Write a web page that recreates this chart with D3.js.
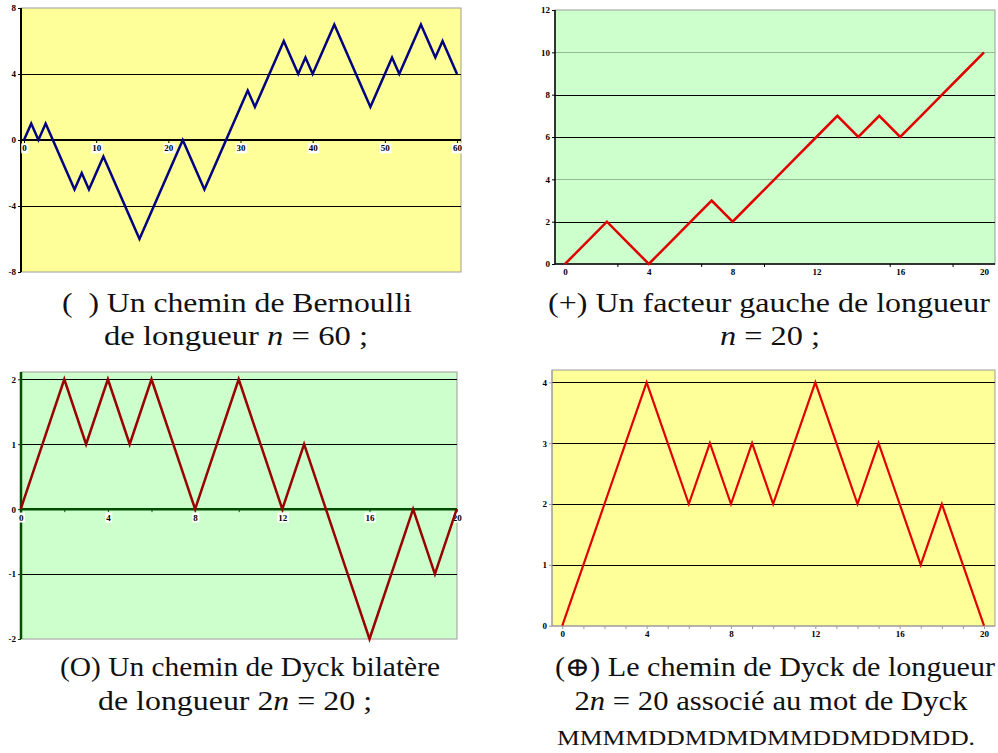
<!DOCTYPE html>
<html><head><meta charset="utf-8">
<script src="https://cdn.jsdelivr.net/npm/d3@7"></script>
<style>body{margin:0;background:#fff}svg{display:block}
.serif{font-family:"Liberation Serif","DejaVu Serif",serif}</style>
</head><body>
<script>
// Height of each path after every step (index = step number)
const bernoulliHeights = [0,1,0,1,0,-1,-2,-3,-2,-3,-2,-1,-2,-3,-4,-5,-6,-5,-4,-3,-2,-1,0,-1,-2,-3,-2,-1,0,1,2,3,2,3,4,5,6,5,4,5,4,5,6,7,6,5,4,3,2,3,4,5,4,5,6,7,6,5,6,5,4];
const bernoulliXTicks = [0,10,20,30,40,50,60];
const bernoulliYTicks = [-8,-4,0,4,8];

const leftFactorHeights = [0,1,2,1,0,1,2,3,2,3,4,5,6,7,6,7,6,7,8,9,10];
const leftFactorXTicks = [0,4,8,12,16,20];
const leftFactorMinorTicks = [2.5,6.5,9.5,15.5,18.5];
const leftFactorYTicks = [0,2,4,6,8,10,12];

const bilateralHeights = [0,1,2,1,2,1,2,1,0,1,2,1,0,1,0,-1,-2,-1,0,-1,0];
const bilateralXTicks = [0,4,8,12,16,20];
const bilateralMinorTicks = [0,2,4,6,8,10,12,14,16,18,20];
const bilateralYTicks = [-2,-1,0,1,2];

const dyckHeights = [0,1,2,3,4,3,2,3,2,3,2,3,4,3,2,3,2,1,2,1,0];
const dyckXTicks = [0,4,8,12,16,20];
const dyckMinorTicks = [0,1,2,3,4,5,6,7,8,9,10,11,12,13,14,15,16,17,18,19,20];
const dyckYTicks = [0,1,2,3,4];
const dyckWord = "MMMMDDMDMDMMDDMDDMDD";

const W = 998, H = 753;
const svg = d3.select("body").append("svg").attr("width", W).attr("height", H);

function panel(cfg) {
  const g = svg.append("g");
  const [px0, py0, px1, py1] = cfg.plot;
  const x = d3.scaleLinear().domain(cfg.xDomain).range(cfg.xRange);
  const y = d3.scaleLinear().domain(cfg.yDomain).range(cfg.yRange);

  g.append("rect")
    .attr("x", px0).attr("y", py0)
    .attr("width", px1 - px0).attr("height", py1 - py0)
    .attr("fill", cfg.bg).attr("stroke", "#9c9c9c").attr("stroke-width", 1);

  g.selectAll("line.grid").data(cfg.grid).join("line")
    .attr("class", "grid")
    .attr("x1", px0).attr("x2", px1)
    .attr("y1", d => Math.round(y(d)) + 0.5).attr("y2", d => Math.round(y(d)) + 0.5)
    .attr("stroke", d => (cfg.gridColor ? cfg.gridColor(d) : "#000"))
    .attr("stroke-width", 1);

  // vertical axis with its tick labels
  const ya = g.append("g").attr("transform", `translate(${px0},0)`)
    .call(d3.axisLeft(y).tickValues(cfg.yTicks).tickSize(3).tickSizeOuter(0).tickFormat(d => String(d)));
  ya.attr("font-family", null).attr("font-size", null);
  ya.select(".domain").remove();
  ya.selectAll(".tick line").attr("stroke", cfg.yAxisColor).attr("stroke-width", 1);
  ya.selectAll(".tick text").attr("class", "serif").attr("font-weight", "bold")
    .attr("font-size", 9).attr("fill", "#000").attr("x", -5);
  g.append("line").attr("x1", px0).attr("x2", px0).attr("y1", py0).attr("y2", py1)
    .attr("stroke", cfg.yAxisColor).attr("stroke-width", cfg.yAxisWidth);

  // horizontal axis: minor ticks, then labelled ticks
  const axisY = cfg.xAxisAt === "bottom" ? py1 : y(0);
  const minor = g.append("g").attr("transform", `translate(0,${axisY})`)
    .call(d3.axisBottom(x).tickValues(cfg.xMinor || []).tickSize(3).tickSizeOuter(0).tickFormat(""));
  minor.select(".domain").remove();
  minor.selectAll(".tick line").attr("stroke", cfg.xAxisColor);

  const xa = g.append("g").attr("transform", `translate(0,${axisY})`)
    .call(d3.axisBottom(x).tickValues(cfg.xTicks).tickSize(cfg.labelTick ? 3 : 0).tickSizeOuter(0).tickFormat(d => String(d)));
  xa.attr("font-family", null).attr("font-size", null);
  xa.select(".domain").remove();
  xa.selectAll(".tick line").attr("stroke", cfg.xAxisColor);
  xa.selectAll(".tick text").attr("class", "serif").attr("font-weight", "bold")
    .attr("font-size", 9).attr("fill", "#000").attr("y", 5);
  if (cfg.labelBox) {
    xa.selectAll(".tick").each(function () {
      const t = d3.select(this).select("text");
      const b = t.node().getBBox();
      d3.select(this).insert("rect", "text")
        .attr("x", b.x - 1).attr("y", b.y).attr("width", b.width + 2).attr("height", b.height)
        .attr("fill", "#fff");
    });
  }
  g.append("line").attr("x1", px0).attr("x2", px1).attr("y1", axisY).attr("y2", axisY)
    .attr("stroke", cfg.xAxisColor).attr("stroke-width", cfg.xAxisWidth);

  const line = d3.line().x((d, i) => x(i)).y(d => y(d));
  g.append("path").datum(cfg.heights)
    .attr("d", line).attr("fill", "none")
    .attr("stroke", cfg.lineColor).attr("stroke-width", cfg.lineWidth)
    .attr("stroke-linejoin", "miter");
}

// Bernoulli path of length 60
panel({
  plot: [21, 8, 461, 272], bg: "#ffff99",
  xDomain: [0, 60], xRange: [24, 457],
  yDomain: [-8, 8], yRange: [272, 8],
  grid: [-4, 4], yTicks: bernoulliYTicks, xTicks: bernoulliXTicks,
  yAxisColor: "#000", yAxisWidth: 2, xAxisColor: "#000", xAxisWidth: 2,
  xAxisAt: "zero", labelBox: true, labelTick: true,
  heights: bernoulliHeights, lineColor: "#000080", lineWidth: 2.5
});

// left factor of length 20
panel({
  plot: [555, 10, 995, 264], bg: "#ccffcc",
  xDomain: [0, 20], xRange: [565, 984],
  yDomain: [0, 12], yRange: [264, 10],
  grid: [2, 4, 6, 8, 10], gridColor: d => (d === 4 || d === 10 ? "#93b893" : "#000"),
  yTicks: leftFactorYTicks, xTicks: leftFactorXTicks, xMinor: leftFactorMinorTicks,
  yAxisColor: "#000", yAxisWidth: 1.5, xAxisColor: "#000", xAxisWidth: 1.5,
  xAxisAt: "bottom", labelBox: false, labelTick: false,
  heights: leftFactorHeights, lineColor: "#e00000", lineWidth: 2.5
});

// bilateral Dyck path of length 20
panel({
  plot: [21, 372, 457, 639], bg: "#ccffcc",
  xDomain: [0, 20], xRange: [20.7, 456.7],
  yDomain: [-2, 2], yRange: [639, 379.3],
  grid: [-1, 1, 2], yTicks: bilateralYTicks, xTicks: bilateralXTicks, xMinor: bilateralMinorTicks,
  yAxisColor: "#004d00", yAxisWidth: 2.5, xAxisColor: "#004d00", xAxisWidth: 2.5,
  xAxisAt: "zero", labelBox: true, labelTick: false,
  heights: bilateralHeights, lineColor: "#990000", lineWidth: 2.5
});

// Dyck path of length 20
panel({
  plot: [552, 370, 995, 626], bg: "#ffff99",
  xDomain: [0, 20], xRange: [562.3, 984],
  yDomain: [0, 4], yRange: [625.7, 382.3],
  grid: [1, 2, 3, 4], yTicks: dyckYTicks, xTicks: dyckXTicks, xMinor: dyckMinorTicks,
  yAxisColor: "#9c9c9c", yAxisWidth: 1, xAxisColor: "#9c9c9c", xAxisWidth: 1,
  xAxisAt: "bottom", labelBox: false, labelTick: false,
  heights: dyckHeights, lineColor: "#e00000", lineWidth: 2.2
});

// captions: parts are [text, italic]
function caption(parts, cx, baseline, width, size) {
  const t = svg.append("text")
    .attr("class", "serif")
    .attr("x", cx).attr("y", baseline)
    .attr("text-anchor", "middle")
    .attr("font-size", size || 27).attr("fill", "#111")
    .attr("textLength", width).attr("lengthAdjust", "spacingAndGlyphs");
  parts.forEach(([s, it]) => {
    t.append("tspan").text(s).attr("font-style", it ? "italic" : null);
  });
}

caption([["(\u2002) Un chemin de Bernoulli", false]], 237, 312, 350);
caption([["de longueur ", false], ["n", true], [" = 60 ;", false]], 236, 345, 264);
caption([["(+) Un facteur gauche de longueur", false]], 769, 312, 442);
caption([["n", true], [" = 20 ;", false]], 770, 345, 100);
caption([["(O) Un chemin de Dyck bilatère", false]], 250, 676, 380);
caption([["de longueur 2", false], ["n", true], [" = 20 ;", false]], 235, 710, 274);
caption([["(\u2295) Le chemin de Dyck de longueur", false]], 775, 676, 440);
caption([["2", false], ["n", true], [" = 20 associé au mot de Dyck", false]], 771, 710, 393);
caption([[dyckWord + ".", false]], 766, 745, 418, 21);
</script>
</body></html>
